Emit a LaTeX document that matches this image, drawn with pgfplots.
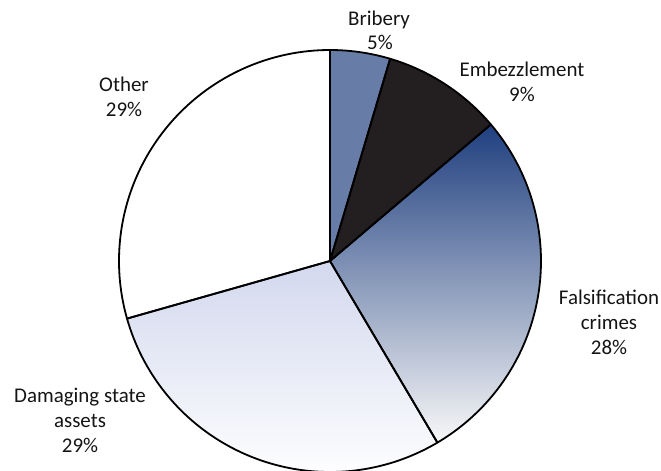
\documentclass[border=0pt]{standalone}
\usepackage{pgfplots}
\usepackage{pgfplotstable}
\pgfplotsset{compat=1.18}
\usepackage{fontspec}
\setmainfont{Carlito}

\definecolor{bribery}{HTML}{687CA8}
\definecolor{embez}{HTML}{231F20}
\definecolor{falsTop}{HTML}{1F3F7F}
\definecolor{falsMid}{HTML}{A6A8B6}
\definecolor{falsBot}{HTML}{F8F8F8}
\definecolor{damTop}{HTML}{D2D8EE}
\definecolor{txt}{HTML}{141414}

% shares read off the slices (labels show them rounded)
\pgfplotstableread{
label value
Bribery 4.6
Embezzlement 9.2
Falsification 27.7
Damaging 29.1
Other 29.4
}\piedata

% slice: start angle, end angle, path options (centre 330,210; radius 211)
\newcommand\slice[3]{%
  \path[#3] (axis cs:330,210) -- ++(#1:211bp)
    arc[start angle=#1, end angle=#2, radius=211bp] -- cycle;}

\begin{document}
\begin{tikzpicture}
\pgfmathsetmacro\aA{90}
\pgfplotstablegetelem{0}{value}\of\piedata \pgfmathsetmacro\aB{\aA-3.6*\pgfplotsretval}
\pgfplotstablegetelem{1}{value}\of\piedata \pgfmathsetmacro\aC{\aB-3.6*\pgfplotsretval}
\pgfplotstablegetelem{2}{value}\of\piedata \pgfmathsetmacro\aD{\aC-3.6*\pgfplotsretval}
\pgfplotstablegetelem{3}{value}\of\piedata \pgfmathsetmacro\aE{\aD-3.6*\pgfplotsretval}
\pgfplotstablegetelem{4}{value}\of\piedata \pgfmathsetmacro\aF{\aE-3.6*\pgfplotsretval}
\useasboundingbox (0,0) rectangle (661bp,471bp);
\begin{axis}[
    hide axis,
    scale only axis,
    x=1bp, y=1bp,
    xmin=0, xmax=661,
    ymin=0, ymax=471,
    clip=false,
    at={(0,0)}, anchor=south west,
]
\slice{\aA}{\aB}{fill=bribery}
\slice{\aB}{\aC}{fill=embez}
\slice{\aC}{\aD}{top color=falsTop, middle color=falsMid, bottom color=falsBot}
\slice{\aD}{\aE}{top color=damTop, bottom color=white}
\slice{\aE}{\aF}{fill=white}
\slice{\aA}{\aB}{draw=black, line width=1.8bp, line join=round}
\slice{\aB}{\aC}{draw=black, line width=1.8bp, line join=round}
\slice{\aC}{\aD}{draw=black, line width=1.8bp, line join=round}
\slice{\aD}{\aE}{draw=black, line width=1.8bp, line join=round}
\slice{\aE}{\aF}{draw=black, line width=1.8bp, line join=round}

\begin{scope}[every node/.style={anchor=base, inner sep=0pt, text=txt,
    font=\fontsize{21}{24}\selectfont}]
\node at (axis cs:379,445) {Bribery};
\node at (axis cs:380,421) {5\%};
\node at (axis cs:522,394) {Embezzlement};
\node at (axis cs:522,369) {9\%};
\node at (axis cs:609,166) {Falsification};
\node at (axis cs:609,141) {crimes};
\node at (axis cs:609,116) {28\%};
\node at (axis cs:80,68) {Damaging state};
\node at (axis cs:80,43) {assets};
\node at (axis cs:80,18) {29\%};
\node at (axis cs:124,379) {Other};
\node at (axis cs:124,354) {29\%};
\end{scope}
\end{axis}
\end{tikzpicture}
\end{document}
